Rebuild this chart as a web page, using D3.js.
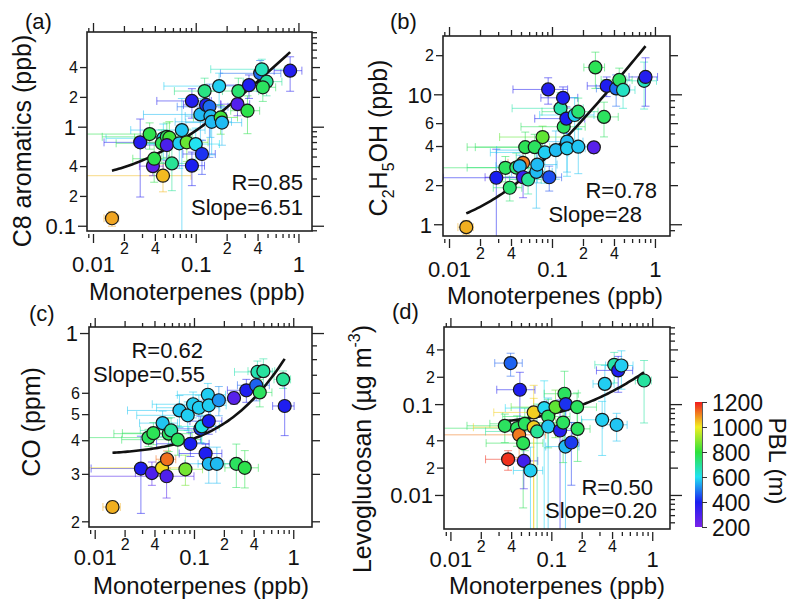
<!DOCTYPE html>
<html>
<head>
<meta charset="utf-8">
<script src="https://cdn.jsdelivr.net/npm/d3@7"></script>
<style>
body { margin: 0; background: #fff; }
svg { font-family: "Liberation Sans", Arial, sans-serif; }
</style>
</head>
<body>
<svg width="794" height="600"></svg>
<script>
// ---- data ----
// shared x axis: monoterpenes (ppb)
var monoTickVals = [0.01, 0.02, 0.04, 0.1, 0.2, 0.4, 1];
var monoTickText = ["0.01", "2", "4", "0.1", "2", "4", "1"];

// (a) C8 aromatics
var aX = [0.0153,0.048,0.0288,0.0356,0.0383,0.0394,0.0484,0.0468,0.0523,0.0554,0.0523,0.0586,0.0733,0.0692,0.0818,0.0918,0.0918,0.1,0.115,0.111,0.122,0.126,0.136,0.139,0.143,0.169,0.175,0.18,0.255,0.26,0.319,0.33,0.424,0.44,0.49,0.45,0.83];
var aY = [0.119,0.32,0.695,0.843,0.40,0.475,0.764,0.68,0.79,0.774,0.653,0.426,0.925,0.68,0.696,1.82,0.404,0.668,0.53,1.33,2.29,1.66,1.59,1.28,1.12,2.57,1.24,1.1,1.69,2.29,1.45,2.63,3.46,3.8,2.85,2.5,3.68];
var aPbl = [1070,1050,380,780,260,780,580,770,760,820,300,700,570,580,860,380,400,600,420,560,720,390,480,560,560,580,820,560,280,740,780,390,480,660,700,760,380];
var aXe = [0.0025,0.042,0.016,0.03,0.01,0.015,0.035,0.03,0.04,0.03,0.02,0.025,0.05,0.04,0.05,0.05,0.03,0.07,0.04,0.08,0.06,0.05,0.07,0.06,0.08,0.12,0.08,0.1,0.08,0.15,0.1,0.15,0.25,0.3,0.2,0.15,0.25];
var aYe = [0.02,0.1,0.5,0.25,0.08,0.2,0.3,0.25,0.3,0.35,0.2,0.2,1.0,0.3,0.25,0.6,0.15,0.3,0.2,0.6,0.8,0.6,1.1,0.5,0.6,0.9,0.4,0.45,0.4,0.8,0.6,0.7,1.2,1.0,0.8,0.7,1.4];
var aTickVals = [0.1, 0.2, 0.4, 1, 2, 4];
var aTickText = ["0.1", "2", "4", "1", "2", "4"];

// (b) ethanol
var bX = [0.0147,0.0288,0.0353,0.0389,0.045,0.0524,0.0486,0.0524,0.055,0.0586,0.068,0.0705,0.072,0.081,0.0852,0.0918,0.094,0.109,0.121,0.128,0.13,0.138,0.14,0.14,0.166,0.18,0.18,0.255,0.264,0.32,0.34,0.42,0.45,0.49,0.785,0.81];
var bY = [0.95,2.28,2.72,1.91,2.73,2.97,2.8,2.3,3.92,2.21,3.92,2.53,2.88,4.69,3.57,10.9,2.3,3.72,7.8,9.4,5.63,6.5,4.32,3.84,6.93,7.35,3.95,3.91,16.1,6.7,11.6,11.1,12.9,10.8,12.7,13.6];
var bPbl = [1060,400,760,740,740,1110,560,330,770,700,760,560,560,850,580,380,450,560,680,390,760,400,560,580,580,740,570,270,770,760,390,480,760,650,660,380];
var bXe = [0.0025,0.02,0.03,0.012,0.03,0.015,0.02,0.03,0.04,0.02,0.05,0.03,0.04,0.05,0.06,0.05,0.03,0.08,0.08,0.05,0.08,0.07,0.06,0.07,0.09,0.1,0.07,0.02,0.06,0.12,0.12,0.15,0.15,0.15,0.25,0.25];
var bYe = [0.12,1.5,0.6,0.4,0.8,0.9,0.6,0.7,1.2,0.5,1.0,1.2,0.8,1.0,1.5,2.5,0.5,1.5,2.5,2.0,1.8,1.5,1.8,1.5,2.5,2.0,1.5,0.4,5,2,2,3,3,3,5,5.5];
var bTickVals = [1, 2, 4, 6, 10, 20];
var bTickText = ["1", "2", "4", "6", "10", "2"];

// (c) CO
var cX = [0.0151,0.0292,0.0377,0.0348,0.039,0.0476,0.0483,0.0535,0.053,0.0556,0.0588,0.0687,0.0714,0.0865,0.082,0.092,0.098,0.112,0.116,0.12,0.131,0.138,0.141,0.141,0.141,0.17,0.178,0.253,0.267,0.325,0.337,0.424,0.46,0.436,0.5,0.79,0.82];
var cY = [0.226,0.314,0.302,0.409,0.425,0.316,0.463,0.34,0.294,0.423,0.435,0.402,0.516,0.495,0.312,0.388,0.544,0.528,0.441,0.45,0.357,0.59,0.539,0.471,0.327,0.327,0.563,0.574,0.327,0.316,0.613,0.64,0.602,0.717,0.722,0.673,0.536];
var cPbl = [1060,390,290,760,770,1020,570,1120,290,760,690,760,570,580,870,400,580,580,430,620,390,580,580,400,560,560,520,270,760,780,390,470,760,670,690,700,390];
var cXe = [0.003,0.02,0.012,0.03,0.02,0.04,0.02,0.012,0.047,0.04,0.03,0.05,0.05,0.06,0.04,0.05,0.06,0.07,0.05,0.06,0.06,0.07,0.07,0.05,0.06,0.06,0.08,0.03,0.08,0.12,0.12,0.15,0.15,0.18,0.15,0.15,0.2];
var cYe = [0.012,0.1,0.03,0.03,0.04,0.02,0.05,0.025,0.05,0.06,0.05,0.05,0.07,0.06,0.04,0.04,0.06,0.06,0.05,0.06,0.03,0.06,0.06,0.05,0.05,0.05,0.07,0.03,0.06,0.05,0.06,0.08,0.07,0.07,0.08,0.05,0.12];
var cTickVals = [0.2, 0.3, 0.4, 0.5, 0.6, 1];
var cTickText = ["2", "3", "4", "5", "6", "1"];

// (d) levoglucosan
var dX = [0.0373,0.0395,0.0346,0.0458,0.048,0.0488,0.0526,0.0534,0.0546,0.0621,0.0669,0.0669,0.0723,0.085,0.093,0.093,0.11,0.122,0.131,0.135,0.139,0.138,0.158,0.18,0.182,0.319,0.339,0.42,0.444,0.46,0.495,0.83];
var dY = [0.0247,0.283,0.0577,0.0543,0.0459,0.144,0.0372,0.0237,0.0607,0.0186,0.081,0.0557,0.05,0.0904,0.073,0.0567,0.0927,0.0512,0.0627,0.13,0.1,0.0341,0.0378,0.0927,0.0534,0.0672,0.167,0.271,0.0592,0.235,0.266,0.182];
var dPbl = [1180,470,760,760,1110,390,770,320,760,580,1030,1030,700,590,760,570,850,380,760,760,420,560,430,760,760,580,580,680,570,390,580,690];
var dXe = [0.015,0.012,0.02,0.04,0.04,0.02,0.03,0.02,0.03,0.02,0.04,0.05,0.05,0.05,0.06,0.05,0.07,0.04,0.07,0.05,0.05,0.05,0.03,0.1,0.06,0.12,0.08,0.15,0.12,0.18,0.15,0.15];
var dYe = [0.006,0.08,0.02,0.02,0.02,0.08,0.03,0.012,0.03,0.015,0.08,0.06,0.05,0.09,0.04,0.06,0.05,0.06,0.04,0.1,0.04,0.05,0.025,0.04,0.03,0.04,0.1,0.1,0.02,0.1,0.12,0.12];
var dTickVals = [0.01, 0.02, 0.04, 0.1, 0.2, 0.4];
var dTickText = ["0.01", "2", "4", "0.1", "2", "4"];

// linear fits y = b0 + b1*x, and the printed stats
var fitIntercept = [0.26, 0.8, 0.351, 0.058];
var fitSlope = [6.51, 28, 0.55, 0.20];
var statR = ["R=0.85", "R=0.78", "R=0.62", "R=0.50"];
var statSlope = ["Slope=6.51", "Slope=28", "Slope=0.55", "Slope=0.20"];

// colour bar
var pblTicks = [200, 400, 600, 800, 1000, 1200];

// ---- layout ----
var panels = [
    { id: "a", letter: "(a)", lx: 25, ly: 29, bigY: 38,
      x0: 87, x1: 312, y0: 32, y1: 231, xd: [0.00874, 1.355], yd: [0.0885, 9.04],
      xs: aX, ys: aY, pbl: aPbl, xe: aXe, ye: aYe, tv: aTickVals, tt: aTickText,
      ytitle: [["C8 aromatics (ppb)", 0]], ytx: 31, yty: 141, xtx: 197, xty: 300,
      rx: 303, ry: 190, sx: 303, sy: 215 },
    { id: "b", letter: "(b)", lx: 390, ly: 29, bigY: 38,
      x0: 443, x1: 670, y0: 36, y1: 236, xd: [0.00874, 1.40], yd: [0.812, 28.1],
      xs: bX, ys: bY, pbl: bPbl, xe: bXe, ye: bYe, tv: bTickVals, tt: bTickText,
      ytitle: [["C", 0], ["2", 1], ["H", 0], ["5", 1], ["OH (ppb)", 0]], ytx: 387, yty: 138, xtx: 555, xty: 304,
      rx: 657, ry: 198, sx: 642, sy: 222 },
    { id: "c", letter: "(c)", lx: 29, ly: 321, bigY: 35,
      x0: 89, x1: 312, y0: 327, y1: 527, xd: [0.00876, 1.545], yd: [0.1905, 1.053],
      xs: cX, ys: cY, pbl: cPbl, xe: cXe, ye: cYe, tv: cTickVals, tt: cTickText,
      ytitle: [["CO (ppm)", 0]], ytx: 40, yty: 422, xtx: 201, xty: 594,
      rx: 203, ry: 358, sx: 205, sy: 382 },
    { id: "d", letter: "(d)", lx: 392, ly: 319, bigY: 35,
      x0: 444, x1: 670, y0: 327, y1: 529, xd: [0.00864, 1.50], yd: [0.00422, 0.706],
      xs: dX, ys: dY, pbl: dPbl, xe: dXe, ye: dYe, tv: dTickVals, tt: dTickText,
      ytitle: [["Levoglucosan (\u00b5g m", 0], ["-3", -1], [")", 0]], ytx: 371, yty: 449, xtx: 557, xty: 594,
      rx: 653, ry: 495, sx: 657, sy: 518 }
];

var svg = d3.select("svg");
svg.append("rect").attr("width", 794).attr("height", 600).attr("fill", "#fff");

// rainbow: violet (200 m) -> red (1200 m)
var pblColor = d3.scaleLinear()
    .domain([200, 400, 600, 800, 1000, 1200])
    .range(["#7a22e8", "#1a1ef0", "#22e2f2", "#2ee23a", "#f2ee22", "#f01c1c"])
    .clamp(true);

function isDecade(v) {
    var l = Math.log10(v);
    return Math.abs(l - Math.round(l)) < 1e-6;
}

function findIdx(vals, d) {
    for (var i = 0; i < vals.length; i++) {
        if (Math.abs(vals[i] - d) / vals[i] < 1e-6) return i;
    }
    return -1;
}

// every 1..9 x 10^n inside the domain
function logTicks(dom) {
    var t = [];
    for (var e = -3; e <= 2; e++) {
        for (var m = 1; m <= 9; m++) {
            var v = +(m * Math.pow(10, e)).toPrecision(6);
            if (v >= dom[0] && v <= dom[1]) t.push(v);
        }
    }
    return t;
}

function addTitle(sel, segs, big) {
    var cur = 0;
    segs.forEach(function (s) {
        var off = s[1] === 1 ? 7 : (s[1] === -1 ? -11 : 0);
        sel.append("tspan")
            .attr("dy", off - cur)
            .attr("font-size", s[1] ? 16 : big)
            .text(s[0]);
        cur = off;
    });
}

panels.forEach(function (p, pi) {
    var x = d3.scaleLog().domain(p.xd).range([p.x0, p.x1]);
    var y = d3.scaleLog().domain(p.yd).range([p.y1, p.y0]);
    var g = svg.append("g");

    svg.append("clipPath").attr("id", "clip" + p.id)
        .append("rect")
        .attr("x", p.x0).attr("y", p.y0)
        .attr("width", p.x1 - p.x0).attr("height", p.y1 - p.y0);

    var rows = p.xs.map(function (v, i) {
        return { x: v, y: p.ys[i], pbl: p.pbl[i], xe: p.xe[i], ye: p.ye[i] };
    });

    var plot = g.append("g").attr("clip-path", "url(#clip" + p.id + ")");

    // error bars (lower end off the axis when mean - sd <= 0)
    var eb = plot.append("g").selectAll("g")
        .data(rows)
        .enter().append("g")
        .attr("stroke", function (d) { return pblColor(d.pbl); })
        .attr("stroke-opacity", 0.55)
        .attr("stroke-width", 1);

    function lowX(d) { return d.x - d.xe > 0 ? x(d.x - d.xe) : p.x0 - 20; }
    function lowY(d) { return d.y - d.ye > 0 ? y(d.y - d.ye) : p.y1 + 20; }

    eb.append("line")
        .attr("x1", lowX).attr("x2", function (d) { return x(d.x + d.xe); })
        .attr("y1", function (d) { return y(d.y); }).attr("y2", function (d) { return y(d.y); });
    eb.append("line")
        .attr("x1", function (d) { return x(d.x); }).attr("x2", function (d) { return x(d.x); })
        .attr("y1", lowY).attr("y2", function (d) { return y(d.y + d.ye); });
    // caps
    eb.append("path").attr("fill", "none").attr("d", function (d) {
        var yy = y(d.y), xx = x(d.x), s = "";
        s += "M" + x(d.x + d.xe) + "," + (yy - 4) + "V" + (yy + 4);
        if (d.x - d.xe > 0) s += "M" + x(d.x - d.xe) + "," + (yy - 4) + "V" + (yy + 4);
        s += "M" + (xx - 4) + "," + y(d.y + d.ye) + "H" + (xx + 4);
        if (d.y - d.ye > 0) s += "M" + (xx - 4) + "," + y(d.y - d.ye) + "H" + (xx + 4);
        return s;
    });

    // fit line
    var ext = d3.extent(p.xs);
    var fitX = d3.range(0, 81).map(function (k) { return ext[0] * Math.pow(ext[1] / ext[0], k / 80); });
    plot.append("path")
        .datum(fitX)
        .attr("fill", "none")
        .attr("stroke", "#111")
        .attr("stroke-width", 2.6)
        .attr("d", d3.line()
            .x(function (d) { return x(d); })
            .y(function (d) { return y(fitIntercept[pi] + fitSlope[pi] * d); }));

    // points
    plot.append("g").selectAll("circle")
        .data(rows)
        .enter().append("circle")
        .attr("cx", function (d) { return x(d.x); })
        .attr("cy", function (d) { return y(d.y); })
        .attr("r", 6.5)
        .attr("fill", function (d) { return pblColor(d.pbl); })
        .attr("stroke", "#1a1a1a")
        .attr("stroke-width", 1.2);

    // frame
    g.append("rect")
        .attr("x", p.x0).attr("y", p.y0)
        .attr("width", p.x1 - p.x0).attr("height", p.y1 - p.y0)
        .attr("fill", "none").attr("stroke", "#222").attr("stroke-width", 1.6);

    var xt = logTicks(p.xd), yt = logTicks(p.yd);

    // bottom axis
    var bx = g.append("g")
        .attr("transform", "translate(0," + (p.y1 + 3) + ")")
        .call(d3.axisBottom(x).tickValues(xt).tickFormat(function (d) {
            var k = findIdx(monoTickVals, d);
            return k < 0 ? "" : monoTickText[k];
        }));
    bx.select(".domain").remove();
    bx.attr("font-family", null).attr("font-size", null).attr("color", "#222");
    bx.selectAll(".tick line").attr("stroke-width", 1.3).attr("y2", function (d) {
        return isDecade(d) ? 9 : (findIdx(monoTickVals, d) >= 0 ? 7 : 4);
    });
    bx.selectAll(".tick text").attr("dy", 0).attr("fill", "#111")
        .attr("y", function (d) { return isDecade(d) ? p.bigY : 20; })
        .attr("font-size", function (d) { return isDecade(d) ? 22 : 16; });

    // top mirror
    var tx = g.append("g")
        .attr("transform", "translate(0," + p.y0 + ")")
        .call(d3.axisTop(x).tickValues(xt).tickFormat(""));
    tx.select(".domain").remove();
    tx.attr("color", "#222");
    tx.selectAll(".tick line").attr("stroke-width", 1.3).attr("y2", function (d) {
        return isDecade(d) ? -9 : (findIdx(monoTickVals, d) >= 0 ? -6 : -4);
    });

    // left axis (labelled ticks only)
    var ly = g.append("g")
        .attr("transform", "translate(" + p.x0 + ",0)")
        .call(d3.axisLeft(y).tickValues(p.tv).tickFormat(function (d, i) { return p.tt[i]; }));
    ly.select(".domain").remove();
    ly.attr("font-family", null).attr("font-size", null).attr("color", "#222");
    ly.selectAll(".tick line").attr("stroke-width", 1.3).attr("x2", function (d) {
        return isDecade(d) ? -9 : -7;
    });
    ly.selectAll(".tick text").attr("fill", "#111").attr("dy", "0.36em")
        .attr("x", function (d) { return isDecade(d) ? -11 : -9; })
        .attr("font-size", function (d) { return isDecade(d) ? 22 : 16; });

    // right mirror
    var ry = g.append("g")
        .attr("transform", "translate(" + p.x1 + ",0)")
        .call(d3.axisRight(y).tickValues(yt).tickFormat(""));
    ry.select(".domain").remove();
    ry.attr("color", "#222");
    ry.selectAll(".tick line").attr("stroke-width", 1.3).attr("x2", function (d) {
        return isDecade(d) ? 12 : (findIdx(p.tv, d) >= 0 ? 8 : 5);
    });

    // titles and stats
    g.append("text").attr("x", p.xtx).attr("y", p.xty)
        .attr("text-anchor", "middle").attr("font-size", 24).attr("fill", "#111")
        .text("Monoterpenes (ppb)");
    var yl = g.append("text")
        .attr("transform", "translate(" + p.ytx + "," + p.yty + ") rotate(-90)")
        .attr("text-anchor", "middle").attr("font-size", 25).attr("fill", "#111");
    addTitle(yl, p.ytitle, 25);

    g.append("text").attr("x", p.lx).attr("y", p.ly)
        .attr("font-size", 22).attr("fill", "#111").text(p.letter);
    g.append("text").attr("x", p.rx).attr("y", p.ry)
        .attr("text-anchor", "end").attr("font-size", 22).attr("fill", "#111").text(statR[pi]);
    g.append("text").attr("x", p.sx).attr("y", p.sy)
        .attr("text-anchor", "end").attr("font-size", 22).attr("fill", "#111").text(statSlope[pi]);
});

// ---- colour bar ----
var cb = { x: 695, w: 7, top: 402, bottom: 527 };
var grad = svg.append("defs").append("linearGradient")
    .attr("id", "pblGrad")
    .attr("x1", 0).attr("y1", 1).attr("x2", 0).attr("y2", 0);
grad.selectAll("stop")
    .data(pblTicks)
    .enter().append("stop")
    .attr("offset", function (d) { return (d - 200) / 1000; })
    .attr("stop-color", function (d) { return pblColor(d); });

svg.append("rect")
    .attr("x", cb.x).attr("y", cb.top)
    .attr("width", cb.w).attr("height", cb.bottom - cb.top)
    .attr("fill", "url(#pblGrad)");

var cScale = d3.scaleLinear().domain([200, 1200]).range([cb.bottom, cb.top]);
var cAxis = svg.append("g")
    .attr("transform", "translate(" + (cb.x + cb.w) + ",0)")
    .call(d3.axisRight(cScale).tickValues(pblTicks).tickFormat(d3.format("d"))
        .tickSize(5).tickSizeOuter(0).tickPadding(5));
cAxis.attr("font-family", null).attr("font-size", null).attr("color", "#333");
cAxis.select(".domain").attr("stroke-width", 0.8);
cAxis.selectAll(".tick text").attr("font-size", 23).attr("fill", "#111").attr("dy", "0.36em");

svg.append("text")
    .attr("transform", "translate(769,461) rotate(90)")
    .attr("text-anchor", "middle").attr("font-size", 24).attr("fill", "#111")
    .text("PBL (m)");
</script>
</body>
</html>
